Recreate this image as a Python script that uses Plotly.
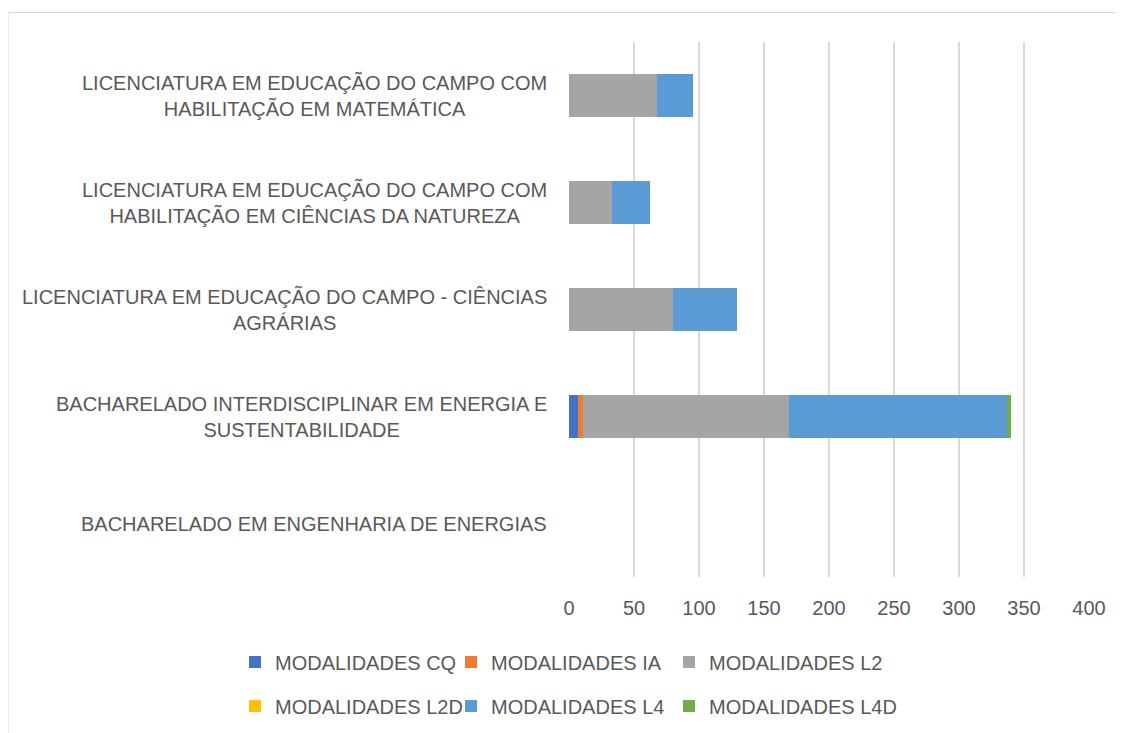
import plotly.graph_objects as go

# --- dados (de baixo para cima, como no gráfico) ---
cursos = [
    "BACHARELADO EM ENGENHARIA DE ENERGIAS",
    "BACHARELADO INTERDISCIPLINAR EM ENERGIA E<br>SUSTENTABILIDADE",
    "LICENCIATURA EM EDUCAÇÃO DO CAMPO - CIÊNCIAS<br>AGRÁRIAS",
    "LICENCIATURA EM EDUCAÇÃO DO CAMPO COM<br>HABILITAÇÃO EM CIÊNCIAS DA NATUREZA",
    "LICENCIATURA EM EDUCAÇÃO DO CAMPO COM<br>HABILITAÇÃO EM MATEMÁTICA",
]
modalidades_cq = [0, 7, 0, 0, 0]
modalidades_ia = [0, 4, 0, 0, 0]
modalidades_l2 = [0, 158, 80, 33, 68]
modalidades_l2d = [0, 0, 0, 0, 0]
modalidades_l4 = [0, 168, 49, 29, 27]
modalidades_l4d = [0, 3, 0, 0, 0]

x_ticks = [0, 50, 100, 150, 200, 250, 300, 350, 400]

series = [
    ("MODALIDADES CQ", modalidades_cq, "#4472C4"),
    ("MODALIDADES IA", modalidades_ia, "#ED7D31"),
    ("MODALIDADES L2", modalidades_l2, "#A5A5A5"),
    ("MODALIDADES L2D", modalidades_l2d, "#FFC000"),
    ("MODALIDADES L4", modalidades_l4, "#5B9BD5"),
    ("MODALIDADES L4D", modalidades_l4d, "#70AD47"),
]

FONTE = "Liberation Sans, Arial, sans-serif"
COR_TEXTO = "#595959"
TAM = 20

W, H = 1123, 733
ml, mr, mt, mb = 561, 42, 33.5, 164
pw, ph = W - ml - mr, H - mt - mb

def px_x(p):
    return (p - ml) / pw

def px_y(p):
    return (H - mb - p) / ph

fig = go.Figure()

# uma legenda por item, para posicionar a grade 3x2 como no Excel
colunas = [227, 443, 661]
linhas = [654, 698]
legendas = {}
for i, (nome, valores, cor) in enumerate(series):
    chave = "legend" if i == 0 else f"legend{i + 1}"
    fig.add_trace(go.Bar(
        y=cursos, x=valores, name=nome, orientation="h",
        marker=dict(color=cor, line=dict(width=0)),
        legend=chave, showlegend=True,
    ))
    legendas[chave] = dict(
        orientation="h", xanchor="left", yanchor="middle",
        x=px_x(colunas[i % 3]), y=px_y(linhas[i // 3]),
        font=dict(family=FONTE, size=TAM, color=COR_TEXTO),
        bgcolor="rgba(0,0,0,0)",
    )

# rótulos das categorias: bloco alinhado à direita, linhas centradas
for c in cursos:
    fig.add_annotation(
        x=-0.038, xref="paper", y=c, yref="y", text=c,
        xanchor="right", align="center", showarrow=False,
        font=dict(family=FONTE, size=TAM, color=COR_TEXTO),
    )

# moldura do gráfico
fig.add_shape(type="rect", xref="paper", yref="paper",
              x0=px_x(0), x1=px_x(1113), y0=px_y(740), y1=px_y(4),
              line=dict(color="#D9D9D9", width=1), layer="below")

fig.update_layout(
    barmode="stack",
    bargap=0.6,
    showlegend=True,
    width=W, height=H,
    margin=dict(l=ml, r=mr, t=mt, b=mb),
    paper_bgcolor="white",
    plot_bgcolor="white",
    font=dict(family=FONTE, size=TAM, color=COR_TEXTO),
    xaxis=dict(range=[0, 400], tickvals=x_ticks, showgrid=True,
               gridcolor="#D9D9D9", gridwidth=1.5, zeroline=False,
               showline=False, ticks="outside", ticklen=13,
               tickcolor="rgba(0,0,0,0)",
               tickfont=dict(family=FONTE, size=TAM, color=COR_TEXTO)),
    yaxis=dict(showticklabels=False, showgrid=False, zeroline=False,
               showline=False, categoryorder="array", categoryarray=cursos),
    **legendas,
)

fig.write_html("out.html")
